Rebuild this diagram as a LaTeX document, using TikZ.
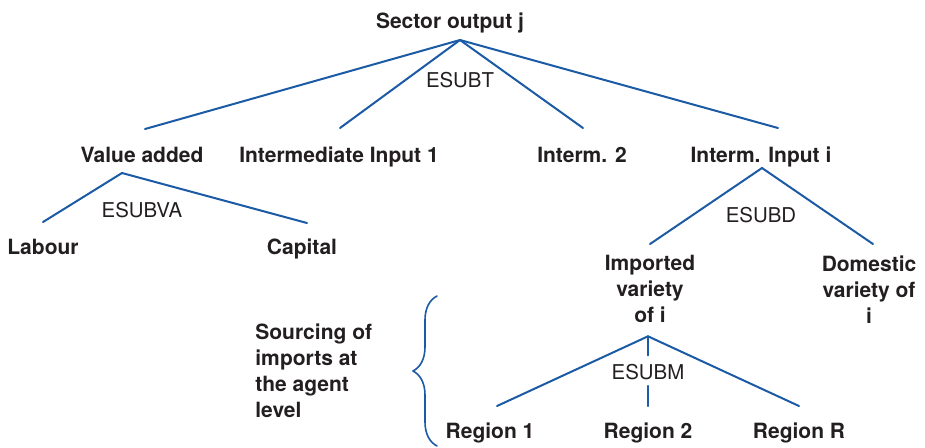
\documentclass[tikz,border=0pt]{standalone}
\usepackage{fontspec}
\setsansfont{TeX Gyre Heros}
\usepackage{tikz}
\usetikzlibrary{decorations.pathreplacing}
\definecolor{lineblue}{HTML}{1B5AA5}
\definecolor{ink}{HTML}{231F20}
\tikzset{
  every picture/.style={font=\sffamily\fontsize{10.2}{13}\selectfont, line join=round, line cap=round},
  lvl/.style={font=\sffamily\bfseries\fontsize{10.5}{13}\selectfont, text=ink, inner sep=0pt, anchor=base},
  esub/.style={text=ink, inner sep=0pt, anchor=base},
  branch/.style={lineblue, line width=1pt},
  curly/.style={lineblue, line width=0.8pt, decorate, decoration={brace, amplitude=12pt}},
}

\begin{document}
\begin{tikzpicture}[x=0.5pt,y=-0.5pt]
\useasboundingbox (0,0) rectangle (925,447);
% levels of the nest
\node[lvl] (out) at (450,28) {Sector output j};
\node[lvl] (va) at (142,162) {Value added};
\node[lvl] (ii1) at (339,162) {Intermediate Input 1};
\node[lvl] (ii2) at (582,162) {Interm. 2};
\node[lvl] (iii) at (761,162) {Interm. Input i};
\node[lvl] (lab) at (43,254) {Labour};
\node[lvl] (cap) at (302,254) {Capital};
\node[lvl,align=center,anchor=north] (imp) at (650,255) {Imported\\variety\\of i};
\node[lvl,align=center,anchor=north] (dom) at (869,255) {Domestic\\variety of\\i};
\node[lvl] (r1) at (490,438) {Region 1};
\node[lvl] (r2) at (648,438) {Region 2};
\node[lvl] (rr) at (799,438) {Region R};
\node[lvl,align=left,anchor=north west] (src) at (255,323) {Sourcing of\\imports at\\the agent\\level};
% elasticities
\node[esub] (esubt) at (460,87) {ESUBT};
\node[esub] (esubva) at (142,217) {ESUBVA};
\node[esub] (esubd) at (761,222) {ESUBD};
\node[esub] (esubm) at (648,379) {ESUBM};
% branch points
\coordinate (top) at ([xshift=5pt,yshift=-6pt]out.base);
\coordinate (vatop) at ([xshift=-10pt,yshift=-5.5pt]va.base);
\coordinate (iitop) at ([xshift=0.5pt,yshift=-3pt]iii.base);
\coordinate (imtop) at ([xshift=-1pt,yshift=-6.5pt]imp.south);
\draw[branch] (top) -- ([xshift=1.5pt,yshift=16.5pt]va.base);
\draw[branch] (top) -- ([xshift=0.5pt,yshift=17pt]ii1.base);
\draw[branch] (top) -- ([xshift=0.5pt,yshift=17pt]ii2.base);
\draw[branch] (top) -- ([xshift=8.5pt,yshift=17pt]iii.base);
\draw[branch] (vatop) -- ([yshift=16pt]lab.base);
\draw[branch] (vatop) -- ([xshift=2.5pt,yshift=15.5pt]cap.base);
\draw[branch] (iitop) -- ([yshift=5.5pt]imp.north);
\draw[branch] (iitop) -- ([xshift=2pt,yshift=5.5pt]dom.north);
\draw[branch] (imtop) -- ([xshift=3.5pt,yshift=16pt]r1.base);
\draw[branch] (imtop) -- ([yshift=4pt]esubm.north);
\draw[branch] ([yshift=-3pt]esubm.south) -- ([yshift=16pt]r2.base);
\draw[branch] (imtop) -- ([yshift=16pt]rr.base);
% brace
\coordinate (blo) at (437,446);
\coordinate (bhi) at (437,296);
\draw[curly] (blo) -- (bhi);
\end{tikzpicture}
\end{document}
